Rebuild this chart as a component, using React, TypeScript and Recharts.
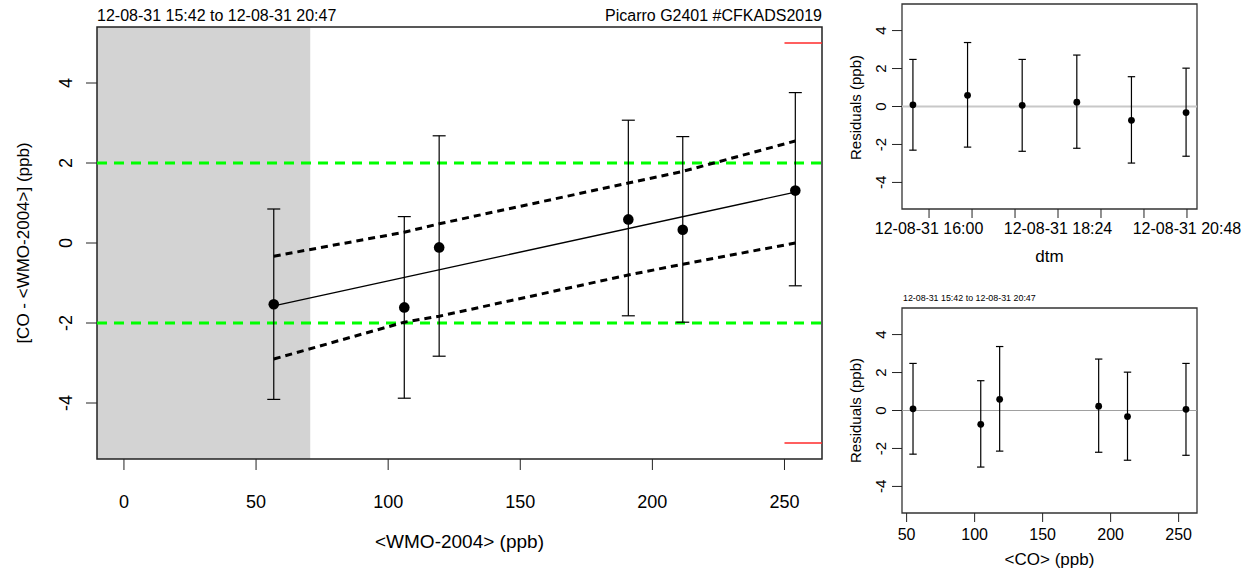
import React from 'react';
import {
  ComposedChart,
  Scatter,
  Line,
  XAxis,
  YAxis,
  ReferenceArea,
  ReferenceLine,
  ErrorBar,
} from 'recharts';

const FONT = '"Liberation Sans", Arial, sans-serif';

// main calibration plot: <WMO-2004> vs [CO - <WMO-2004>]
const wmo = [56.7, 106.1, 119.3, 190.9, 211.5, 254.1];
const diff = [-1.53, -1.61, -0.11, 0.59, 0.33, 1.31];
const diffLow = [-3.91, -3.88, -2.83, -1.82, -1.98, -1.07];
const diffHigh = [0.85, 0.66, 2.68, 3.07, 2.66, 3.76];
const fitEnds = [-1.57, 1.27];
const bandUpper = [-0.33, 0.27, 0.48, 1.5, 1.79, 2.55];
const bandLower = [-2.9, -1.98, -1.83, -0.8, -0.53, 0.0];
const greenLimits = [2, -2];
const redLimits = [5, -5];
const redFrom = 250;
const shadeTo = 70.5;
const mainXDomain = [-10.2, 264.2];
const mainXTicks = [0, 50, 100, 150, 200, 250];
const yDomain = [-5.4, 5.4];
const yTicks = [-4, -2, 0, 2, 4];

// residuals, in time order
const dtmDate = '12-08-31';
const dtm = ['15:42', '16:43', '17:44', '18:45', '19:46', '20:47'];
const coMean = [54.7, 118.4, 255.4, 191.2, 104.5, 212.4];
const resid = [0.09, 0.59, 0.06, 0.23, -0.73, -0.32];
const residLow = [-2.3, -2.14, -2.36, -2.2, -2.98, -2.62];
const residHigh = [2.48, 3.37, 2.48, 2.71, 1.57, 2.02];
const timeTicks = ['16:00', '16:48', '17:36', '18:24', '19:12', '20:00', '20:48'];
const timeLabelled = ['16:00', '18:24', '20:48'];
const timeDomain = ['15:29.8', '20:59.2'];
const coDomain = [46.6, 263.5];
const coTicks = [50, 100, 150, 200, 250];

const toMin = (s: string) => {
  const [h, m] = s.split(':').map(Number);
  return h * 60 + m;
};

const mainPoints = wmo.map((x, i) => ({
  x,
  y: diff[i],
  err: [diff[i] - diffLow[i], diffHigh[i] - diff[i]],
}));
const fitData = [
  { x: wmo[0], y: fitEnds[0] },
  { x: wmo[wmo.length - 1], y: fitEnds[1] },
];
const upperData = wmo.map((x, i) => ({ x, y: bandUpper[i] }));
const lowerData = wmo.map((x, i) => ({ x, y: bandLower[i] }));

const residErr = (i: number) => [resid[i] - residLow[i], residHigh[i] - resid[i]];
const timePoints = dtm.map((t, i) => ({ x: toMin(t), y: resid[i], err: residErr(i) }));
const coPoints = coMean.map((c, i) => ({ x: c, y: resid[i], err: residErr(i) }));

const RotatedTick = ({ x, y, payload, shift, size }: any) => (
  <text
    transform={`translate(${x + shift},${y}) rotate(-90)`}
    textAnchor="middle"
    fontSize={size}
    fontFamily={FONT}
    fill="#000"
  >
    {payload.value}
  </text>
);

const dot = (r: number) => (p: any) => <circle cx={p.cx} cy={p.cy} r={r} fill="#000" />;

function MainPlot() {
  return (
    <ComposedChart
      width={840}
      height={575}
      margin={{ top: 27, right: 18, bottom: 0, left: 0 }}
    >
      <XAxis
        type="number"
        dataKey="x"
        domain={mainXDomain}
        ticks={mainXTicks}
        interval={0}
        allowDataOverflow
        axisLine={false}
        tickSize={11}
        tickMargin={25}
        tickLine={{ stroke: '#222' }}
        tick={{ fontSize: 18, fill: '#000', fontFamily: FONT }}
        height={116}
      />
      <YAxis
        type="number"
        dataKey="y"
        domain={yDomain}
        ticks={yTicks}
        interval={0}
        allowDataOverflow
        axisLine={false}
        tickSize={11}
        tickLine={{ stroke: '#222' }}
        tick={(p: any) => <RotatedTick {...p} shift={-12} size={18} />}
        width={97}
      />
      <ReferenceArea
        x1={mainXDomain[0]}
        x2={shadeTo}
        y1={yDomain[0]}
        y2={yDomain[1]}
        fill="#d3d3d3"
        fillOpacity={1}
        stroke="none"
      />
      {greenLimits.map((v) => (
        <ReferenceLine
          key={`g${v}`}
          y={v}
          stroke="#00ff00"
          strokeWidth={3}
          strokeDasharray="10 7"
        />
      ))}
      {redLimits.map((v) => (
        <ReferenceLine
          key={`r${v}`}
          segment={[
            { x: redFrom, y: v },
            { x: mainXDomain[1], y: v },
          ]}
          stroke="#ff2a2a"
          strokeWidth={1.5}
        />
      ))}
      <Line
        data={upperData}
        dataKey="y"
        stroke="#000"
        strokeWidth={3}
        strokeDasharray="7 5"
        dot={false}
        isAnimationActive={false}
      />
      <Line
        data={lowerData}
        dataKey="y"
        stroke="#000"
        strokeWidth={3}
        strokeDasharray="7 5"
        dot={false}
        isAnimationActive={false}
      />
      <Line
        data={fitData}
        dataKey="y"
        stroke="#000"
        strokeWidth={1.3}
        dot={false}
        isAnimationActive={false}
      />
      <Scatter data={mainPoints} dataKey="y" shape={dot(5.3)} isAnimationActive={false}>
        <ErrorBar
          dataKey="err"
          direction="y"
          width={6.5}
          stroke="#000"
          strokeWidth={1.2}
          isAnimationActive={false}
        />
      </Scatter>
      <ReferenceArea
        x1={mainXDomain[0]}
        x2={mainXDomain[1]}
        y1={yDomain[0]}
        y2={yDomain[1]}
        fill="none"
        stroke="#222"
        strokeWidth={1.5}
      />
      <text x={97} y={20.5} fontSize={16} fontFamily={FONT} fill="#000">
        12-08-31 15:42 to 12-08-31 20:47
      </text>
      <text x={822} y={20.5} fontSize={16} fontFamily={FONT} fill="#000" textAnchor="end">
        Picarro G2401 #CFKADS2019
      </text>
      <text x={459.5} y={548} fontSize={19} fontFamily={FONT} fill="#000" textAnchor="middle">
        {'<WMO-2004> (ppb)'}
      </text>
      <text
        transform="translate(29,243) rotate(-90)"
        fontSize={17}
        fontFamily={FONT}
        fill="#000"
        textAnchor="middle"
      >
        {'[CO - <WMO-2004>] (ppb)'}
      </text>
    </ComposedChart>
  );
}

function ResidualPlot({
  points,
  height,
  top,
  xDomain,
  xTicks,
  xFormat,
  xTickMargin,
  xLabel,
  xLabelY,
  yLabelY,
  zeroStroke,
  zeroWidth,
  title,
}: any) {
  return (
    <ComposedChart
      width={410}
      height={height}
      margin={{ top, right: 53, bottom: 0, left: 0 }}
    >
      <XAxis
        type="number"
        dataKey="x"
        domain={xDomain}
        ticks={xTicks}
        interval={0}
        allowDataOverflow
        axisLine={false}
        tickSize={9}
        tickMargin={xTickMargin}
        tickLine={{ stroke: '#222' }}
        tickFormatter={xFormat}
        tick={{ fontSize: 16, fill: '#000', fontFamily: FONT }}
        height={height - top - 205}
      />
      <YAxis
        type="number"
        dataKey="y"
        domain={yDomain}
        ticks={yTicks}
        interval={0}
        allowDataOverflow
        axisLine={false}
        tickSize={10}
        tickLine={{ stroke: '#222' }}
        tick={(p: any) => <RotatedTick {...p} shift={-4} size={15} />}
        width={62}
      />
      <ReferenceLine y={0} stroke={zeroStroke} strokeWidth={zeroWidth} />
      <Scatter data={points} dataKey="y" shape={dot(3.4)} isAnimationActive={false}>
        <ErrorBar
          dataKey="err"
          direction="y"
          width={3.7}
          stroke="#000"
          strokeWidth={1.2}
          isAnimationActive={false}
        />
      </Scatter>
      <ReferenceArea
        x1={xDomain[0]}
        x2={xDomain[1]}
        y1={yDomain[0]}
        y2={yDomain[1]}
        fill="none"
        stroke="#333"
        strokeWidth={1.3}
      />
      {title && (
        <text x={63} y={11} fontSize={8.9} fontFamily={FONT} fill="#000">
          {title}
        </text>
      )}
      <text x={209.5} y={xLabelY} fontSize={17} fontFamily={FONT} fill="#000" textAnchor="middle">
        {xLabel}
      </text>
      <text
        transform={`translate(21,${yLabelY}) rotate(-90)`}
        fontSize={15}
        fontFamily={FONT}
        fill="#000"
        textAnchor="middle"
      >
        Residuals (ppb)
      </text>
    </ComposedChart>
  );
}

export default function App() {
  const timeTickValues = timeTicks.map(toMin);
  const timeFormat = (m: number) => {
    const hh = String(Math.floor(m / 60)).padStart(2, '0');
    const mm = String(Math.round(m % 60)).padStart(2, '0');
    const s = `${hh}:${mm}`;
    return timeLabelled.includes(s) ? `${dtmDate} ${s}` : '';
  };
  return (
    <div
      style={{
        position: 'absolute',
        left: 0,
        top: 0,
        width: 1250,
        height: 575,
        background: '#fff',
        fontFamily: FONT,
      }}
    >
      <div style={{ position: 'absolute', left: 0, top: 0 }}>
        <MainPlot />
      </div>
      <div style={{ position: 'absolute', left: 840, top: 0 }}>
        <ResidualPlot
          points={timePoints}
          height={300}
          top={4}
          xDomain={timeDomain.map(toMin)}
          xTicks={timeTickValues}
          xFormat={timeFormat}
          xTickMargin={5}
          xLabel="dtm"
          xLabelY={262}
          yLabelY={107.5}
          zeroStroke="#c8c8c8"
          zeroWidth={2}
        />
      </div>
      <div style={{ position: 'absolute', left: 840, top: 290 }}>
        <ResidualPlot
          points={coPoints}
          height={285}
          top={18}
          xDomain={coDomain}
          xTicks={coTicks}
          xFormat={(v: number) => String(v)}
          xTickMargin={7}
          xLabel="<CO> (ppb)"
          xLabelY={275}
          yLabelY={120.5}
          zeroStroke="#a0a0a0"
          zeroWidth={1}
          title="12-08-31 15:42 to 12-08-31 20:47"
        />
      </div>
    </div>
  );
}
